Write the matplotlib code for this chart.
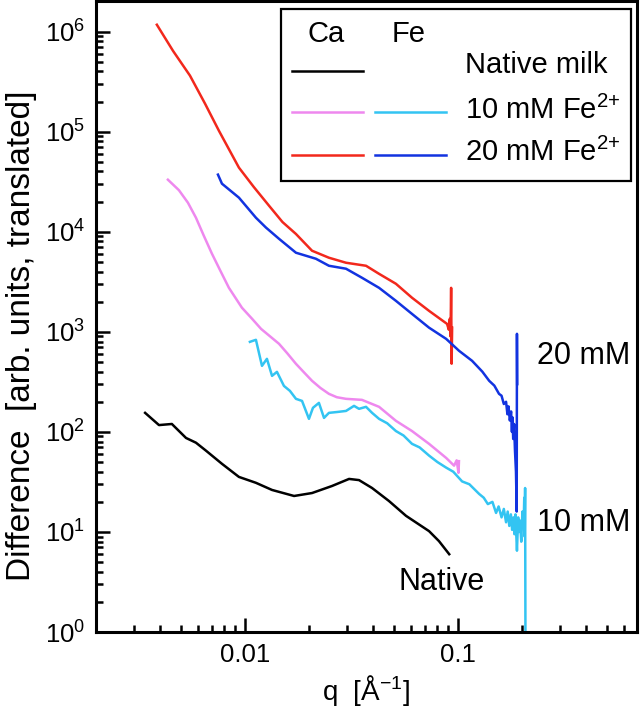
import numpy as np
import matplotlib.pyplot as plt
from matplotlib.ticker import FixedLocator, FixedFormatter, LogLocator, NullFormatter
from matplotlib.patches import Rectangle
from matplotlib.lines import Line2D

plt.rcParams['font.family'] = ['Liberation Sans', 'DejaVu Sans']
plt.rcParams['mathtext.default'] = 'regular'

# Native milk (black)
q_native = [0.0034, 0.00395, 0.00454, 0.00529, 0.00589, 0.00656, 0.0078, 0.00937,
            0.01126, 0.0134, 0.017, 0.02064, 0.0256, 0.0308, 0.0343, 0.0395,
            0.0474, 0.057, 0.0731, 0.0814, 0.0909]
I_native = [155, 117, 120, 87, 78, 65, 48, 35.5,
            31, 26.3, 22.9, 24.5, 28.8, 33.9, 33, 27.5,
            20.4, 14.5, 10.2, 8.1, 6.0]

# Ca, 10 mM Fe2+ (pink)
q_ca10 = [0.00435, 0.0049, 0.0054, 0.00589, 0.0064, 0.007, 0.0077, 0.00841,
          0.00968, 0.0108, 0.0119, 0.01445, 0.0158, 0.01735, 0.019, 0.02064,
          0.0226, 0.02478, 0.027, 0.0298, 0.0354, 0.0426, 0.0511, 0.0608,
          0.0731, 0.0879, 0.0958, 0.0985, 0.1005, 0.101]
I_ca10 = [3.31e4, 2.6e4, 1.95e4, 1.38e4, 9.2e3, 6.03e3, 4.0e3, 2.75e3,
          1.74e3, 1.35e3, 1.07e3, 759, 610, 479, 390, 324,
          275, 240, 222, 214, 209, 178, 129, 102,
          76, 55, 46, 52, 39, 51]

# Fe, 10 mM Fe2+ (cyan)
q_fe10 = [0.01055, 0.01126, 0.01202, 0.01268, 0.0134, 0.01413, 0.01524, 0.01626,
          0.01735, 0.01853, 0.01997, 0.02085, 0.02224, 0.0235, 0.02478, 0.02704,
          0.0298, 0.0325, 0.0343, 0.037, 0.0395, 0.0426, 0.0465, 0.0511,
          0.0555, 0.0608, 0.066, 0.0731, 0.08, 0.0879, 0.095, 0.1045,
          0.113, 0.1256, 0.132, 0.138, 0.145, 0.1508, 0.155, 0.16,
          0.164, 0.168, 0.171, 0.174, 0.177, 0.1794, 0.182, 0.184,
          0.186, 0.187, 0.189, 0.1915, 0.1935, 0.1954, 0.198, 0.2005,
          0.203, 0.2045, 0.2055, 0.2064, 0.2072]
I_fe10 = [794, 832, 457, 537, 363, 398, 288, 257,
          214, 204, 135, 174, 195, 138, 155, 158,
          162, 182, 170, 178, 155, 135, 122, 102,
          92, 76, 70, 58, 50, 44, 40, 32,
          30, 24, 22, 19, 20, 15.5, 18, 14,
          17, 12.5, 16, 11.5, 15, 10.5, 14, 9.5,
          15, 11, 6.5, 14, 10, 13, 8, 16,
          11, 22, 9, 27.5, 0.8]

# Ca, 20 mM Fe2+ (red)
q_ca20 = [0.00386, 0.0046, 0.00552, 0.0065, 0.00755, 0.00937, 0.011, 0.01297,
          0.015, 0.01735, 0.02064, 0.02477, 0.02979, 0.037, 0.04256, 0.0511,
          0.0608, 0.0731, 0.0888, 0.0905, 0.0915, 0.0922, 0.0928, 0.0933,
          0.0938]
I_ca20 = [1.17e6, 6.4e5, 3.63e5, 1.9e5, 1.02e5, 4.37e4, 2.8e4, 1.82e4,
          1.25e4, 9.5e3, 6.46e3, 5.5e3, 4.9e3, 4.57e3, 3.8e3, 3.02e3,
          2.19e3, 1.62e3, 1.2e3, 1.05e3, 1.35e3, 900, 2.75e3, 480,
          1.1e3]

# Fe, 20 mM Fe2+ (blue)
q_fe20 = [0.00747, 0.0078, 0.00937, 0.01126, 0.01255, 0.01445, 0.01735, 0.02153,
          0.02478, 0.0298, 0.0354, 0.0426, 0.0511, 0.0608, 0.0731, 0.0879,
          0.1011, 0.1164, 0.13, 0.14, 0.148, 0.1557, 0.16, 0.164,
          0.168, 0.1705, 0.1725, 0.175, 0.1774, 0.179, 0.18, 0.1815,
          0.1832, 0.185, 0.187, 0.1885, 0.189, 0.1895]
I_fe20 = [3.72e4, 3.02e4, 2.19e4, 1.38e4, 1.1e4, 8.5e3, 6.17e3, 5.37e3,
          4.57e3, 4.27e3, 3.47e3, 2.75e3, 2.04e3, 1.51e3, 1.1e3, 851,
          646, 513, 400, 324, 290, 240, 230, 190,
          200, 150, 180, 130, 160, 100, 140, 85,
          120, 65, 40, 16, 955, 300]

fig = plt.figure(figsize=(6.4, 7.11), dpi=100)
ax = fig.add_axes([0.150, 0.111, 0.845, 0.887])

lw = 1.8
ax.plot(q_native, I_native, color='black', lw=lw)
ax.plot(q_ca10, I_ca10, color='#ee88ee', lw=lw)
ax.plot(q_fe10, I_fe10, color='#33c4f2', lw=lw)
ax.plot(q_ca20, I_ca20, color='#f2281c', lw=lw)
ax.plot(q_fe20, I_fe20, color='#1233e0', lw=lw)

ax.set_xscale('log')
ax.set_yscale('log')
ax.set_xlim(0.002, 0.69)
ax.set_ylim(1, 2e6)

ax.xaxis.set_major_locator(FixedLocator([0.01, 0.1]))
ax.xaxis.set_major_formatter(FixedFormatter(['0.01', '0.1']))
ax.xaxis.set_minor_locator(LogLocator(base=10, subs=np.arange(2, 10), numticks=20))
ax.xaxis.set_minor_formatter(NullFormatter())
ax.yaxis.set_major_locator(LogLocator(base=10, numticks=10))
ax.yaxis.set_minor_locator(LogLocator(base=10, subs=np.arange(2, 10), numticks=20))
ax.yaxis.set_minor_formatter(NullFormatter())

ax.tick_params(which='both', direction='in', top=False, right=False, width=1.8, labelsize=18.5)
ax.tick_params(which='major', length=10, pad=8)
ax.tick_params(which='minor', length=5)
for s in ax.spines.values():
    s.set_linewidth(2.2)

ax.set_xlabel('q  [Å$^{-1}$]', fontsize=20, labelpad=4)
ax.set_ylabel('Difference  [arb. units, translated]', fontsize=24)
ax.yaxis.set_label_coords(-0.11, 0.47)

ax.text(0.235, 575, '20 mM', fontsize=22, va='center', ha='left')
ax.text(0.235, 12.3, '10 mM', fontsize=22, va='center', ha='left')
ax.text(0.084, 3.2, 'Native', fontsize=22, va='center', ha='center')

# legend box drawn by hand (two sample columns: Ca and Fe)
tr = ax.transAxes
def fx(px):
    return (px - 96) / (637 - 96)
def fy(py):
    return (632 - py) / (632 - 1)

ax.add_patch(Rectangle((fx(281), fy(181)), fx(631) - fx(281), fy(9) - fy(181),
                       transform=tr, fill=False, lw=1.6, ec='black', zorder=5))
ax.text(fx(326), fy(34), 'Ca', transform=tr, fontsize=21, ha='center', va='center')
ax.text(fx(409), fy(34), 'Fe', transform=tr, fontsize=21, ha='center', va='center')
rows = [(71, 65, 'black', None, 'Native milk'),
        (112, 110, '#ee88ee', '#33c4f2', '10 mM Fe$^{2{+}}$'),
        (155, 152, '#f2281c', '#1233e0', '20 mM Fe$^{2{+}}$')]
for py, ty, c1, c2, label in rows:
    ax.add_line(Line2D([fx(292), fx(363)], [fy(py), fy(py)], transform=tr, color=c1, lw=lw))
    if c2 is not None:
        ax.add_line(Line2D([fx(375), fx(446)], [fy(py), fy(py)], transform=tr, color=c2, lw=lw))
    ax.text(fx(465), fy(ty), label, transform=tr, fontsize=21, ha='left', va='center')

plt.savefig('out.png', dpi=100)
